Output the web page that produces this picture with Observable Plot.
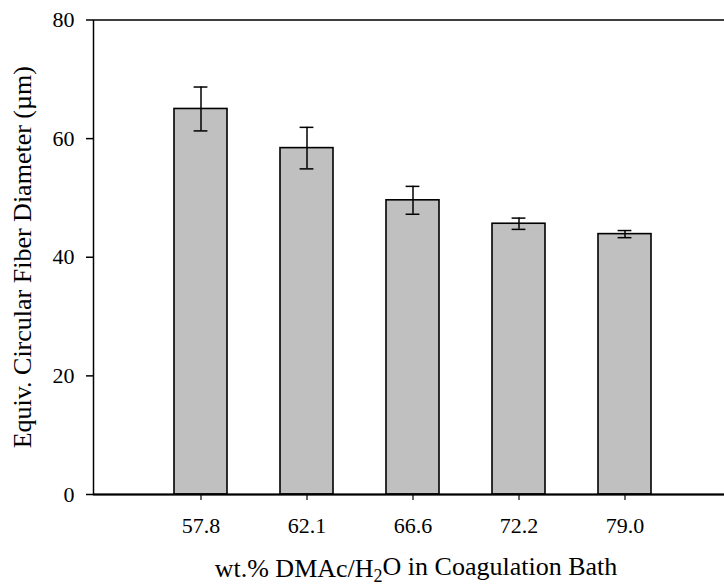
<!DOCTYPE html>
<html><head><meta charset="utf-8">
<script src="https://cdn.jsdelivr.net/npm/d3@7"></script>
<script src="https://cdn.jsdelivr.net/npm/@observablehq/plot@0.6"></script>
<style>body{margin:0;background:#fff;overflow:hidden} svg text{font-family:'Liberation Serif','Times New Roman',serif}</style>
</head><body><div id="chart"></div>
<script>
const categories = ["57.8", "62.1", "66.6", "72.2", "79.0"];
const diameters = [65.0, 58.4, 49.6, 45.65, 43.9];
const errors = [3.7, 3.5, 2.35, 0.95, 0.6];
const yTicks = [0, 20, 40, 60, 80];
const yLabel = "Equiv. Circular Fiber Diameter (µm)";
const xLabelParts = ["wt.% DMAc/H", "2", "O in Coagulation Bath"];

const data = categories.map((c, i) => ({
  cat: c, v: diameters[i], lo: diameters[i] - errors[i], hi: diameters[i] + errors[i]
}));

const W = 724, H = 585, ML = 93, MT = 19.5, MB = 91, MR = -9;
const step = 106.6;
const serif = "'Liberation Serif', 'Times New Roman', serif";

const svg = Plot.plot({
  width: W, height: H,
  marginLeft: ML, marginRight: MR, marginTop: MT, marginBottom: MB,
  style: {fontFamily: serif, fontSize: "22px", color: "#000", background: "#fff", overflow: "hidden"},
  x: {type: "band", domain: categories, range: [ML, ML + 6 * step], paddingInner: 0.5, paddingOuter: 0.75, align: 0.5},
  y: {domain: [0, 80]},
  marks: [
    Plot.barY(data, {x: "cat", y: "v", fill: "#c0c0c0", stroke: "#000", strokeWidth: 1.6}),
    Plot.ruleX(data, {x: "cat", y1: "lo", y2: "hi", stroke: "#000", strokeWidth: 1.5}),
    Plot.tickY(data, {x: "cat", y: "lo", stroke: "#000", strokeWidth: 1.5, insetLeft: 19.6, insetRight: 19.6}),
    Plot.tickY(data, {x: "cat", y: "hi", stroke: "#000", strokeWidth: 1.5, insetLeft: 19.6, insetRight: 19.6}),
    Plot.frame({stroke: "#000", strokeWidth: 1.5}),
    Plot.ruleY([0], {stroke: "#000", strokeWidth: 1.8}),
    Plot.axisY({ticks: yTicks, tickSize: 7, tickPadding: 12, label: null, stroke: "#000", strokeWidth: 1.5, fontSize: 22, fontFamily: serif}),
    Plot.axisX({tickSize: 6, tickPadding: 17, label: null, stroke: "#000", strokeWidth: 1.2, fontSize: 22, fontFamily: serif}),
    Plot.text([yLabel], {frameAnchor: "left", textAnchor: "middle", lineAnchor: "middle", dx: -71, rotate: -90, fontSize: 26, fontFamily: serif, fill: "#000"})
  ]
});

d3.select(svg).append("text")
  .attr("x", 416).attr("y", 577)
  .attr("text-anchor", "middle")
  .attr("font-size", 26)
  .attr("font-family", serif)
  .attr("fill", "#000")
  .call(t => {
    t.append("tspan").text(xLabelParts[0]);
    t.append("tspan").attr("dy", "0.3em").attr("font-size", 18).text(xLabelParts[1]);
    t.append("tspan").attr("dy", "-0.3em").text(xLabelParts[2]);
  });

document.getElementById("chart").appendChild(svg);
</script>
</body></html>
